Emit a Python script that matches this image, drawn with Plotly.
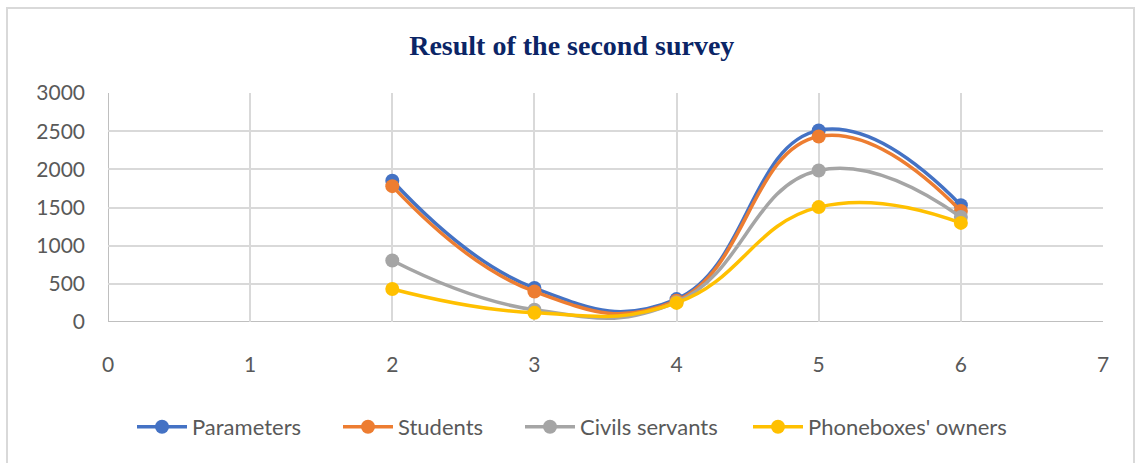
import plotly.graph_objects as go

x_vals = [2, 3, 4, 5, 6]
parameters = [1850, 445, 300, 2510, 1530]
students = [1780, 400, 280, 2430, 1455]
civil_servants = [805, 160, 260, 1985, 1375]
phonebox_owners = [432, 120, 250, 1505, 1298]

series_names = ["Parameters", "Students", "Civils servants", "Phoneboxes' owners"]
series_values = [parameters, students, civil_servants, phonebox_owners]
colors = ["#4472C4", "#ED7D31", "#A5A5A5", "#FFC000"]
legend_ids = ["legend", "legend2", "legend3", "legend4"]
legend_px = [137, 343, 525, 753]

fig = go.Figure()
for name, vals, col, lg in zip(series_names, series_values, colors, legend_ids):
    fig.add_trace(go.Scatter(
        x=x_vals, y=vals, name=name, mode="lines+markers",
        line=dict(color=col, width=3.5, shape="spline", smoothing=1.3),
        marker=dict(color=col, size=14),
        legend=lg,
    ))

font_family = "Lato, 'Liberation Sans', sans-serif"
layout_legends = {}
for lg, px in zip(legend_ids, legend_px):
    layout_legends[lg] = dict(
        orientation="h", x=(px - 108 - 5) / 995, xanchor="left",
        y=(322 - 427) / 229, yanchor="middle",
        font=dict(family=font_family, size=22, color="#595959"),
        itemwidth=50, borderwidth=0, bgcolor="rgba(0,0,0,0)",
    )

fig.update_layout(
    width=1139, height=463,
    margin=dict(l=108, r=36, t=93, b=141),
    paper_bgcolor="white", plot_bgcolor="white",
    title=dict(text="<b>Result of the second survey</b>", x=0.502, xanchor="center",
               y=1 - 45 / 463, yanchor="middle",
               font=dict(family="'Liberation Serif', 'Times New Roman', serif", size=28, color="#0B2566")),
    font=dict(family=font_family, size=20, color="#595959"),
    xaxis=dict(range=[0, 7], dtick=1, tick0=0, showgrid=True, gridcolor="#D9D9D9", gridwidth=1.5,
               zeroline=False, showline=False, ticks="", ticklabelstandoff=28,
               tickfont=dict(family=font_family, size=21, color="#595959")),
    yaxis=dict(range=[0, 3000], dtick=500, showgrid=True, gridcolor="#D9D9D9", gridwidth=1.5,
               zeroline=False, showline=False, ticks="", ticklabelstandoff=22,
               tickfont=dict(family=font_family, size=21, color="#595959")),
    showlegend=True,
    **layout_legends,
)

# axis lines at x=0 and y=0
fig.add_shape(type="line", xref="x", yref="y", x0=0, x1=0, y0=0, y1=3000,
              line=dict(color="#BFBFBF", width=2), layer="below")
fig.add_shape(type="line", xref="x", yref="y", x0=0, x1=7, y0=0, y1=0,
              line=dict(color="#BFBFBF", width=2), layer="below")
# chart frame
fig.add_shape(type="rect", xref="paper", yref="paper",
              x0=(7 - 108) / 995, x1=(1134 - 108) / 995,
              y0=(322 - 480) / 229, y1=(322 - 8) / 229,
              line=dict(color="#D9D9D9", width=2), layer="below")

fig.write_html("out.html")
